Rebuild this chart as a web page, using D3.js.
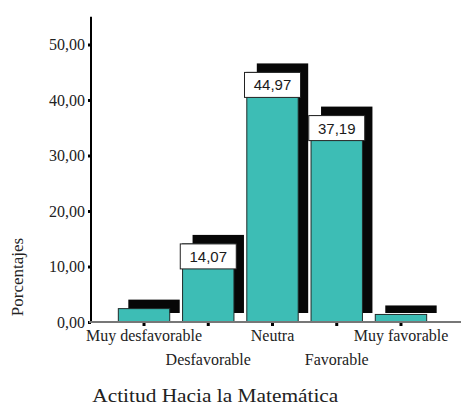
<!DOCTYPE html>
<html>
<head>
<meta charset="utf-8">
<script src="https://cdn.jsdelivr.net/npm/d3@7/dist/d3.min.js"></script>
<style>
  html, body { margin: 0; padding: 0; background: #fff; }
  svg { display: block; }
</style>
</head>
<body>
<svg id="chart" width="461" height="410"></svg>
<script>
// Actitud hacia la matemática: porcentaje por categoría
const categories = ["Muy desfavorable", "Desfavorable", "Neutra", "Favorable", "Muy favorable"];
const percentages = [2.41, 14.07, 44.97, 37.19, 1.36];
const labelledValues = ["", "14,07", "44,97", "37,19", ""];
const yTickValues = [0, 10, 20, 30, 40, 50];

const svg = d3.select("#chart");
const serif = "'Liberation Serif', 'Times New Roman', serif";
const sans = "'Liberation Sans', Arial, sans-serif";

const axisX = 91, baseY = 322;
const y = d3.scaleLinear().domain([0, 55]).range([baseY, 16.75]);
const x = d3.scaleBand().domain(categories).range([111.9, 433.1])
  .paddingInner(0.2).paddingOuter(0.1);

const fmt = v => d3.format(".2f")(v).replace(".", ",");
const shadowDx = 10, shadowDy = -9;

// drop shadows behind each bar
svg.append("g").selectAll("rect").data(categories).join("rect")
  .attr("x", d => x(d) + shadowDx)
  .attr("y", (d, i) => y(percentages[i]) + shadowDy)
  .attr("width", x.bandwidth())
  .attr("height", (d, i) => baseY - y(percentages[i]))
  .attr("fill", "#070707");

// bars
svg.append("g").selectAll("rect").data(categories).join("rect")
  .attr("x", d => x(d))
  .attr("y", (d, i) => y(percentages[i]))
  .attr("width", x.bandwidth())
  .attr("height", (d, i) => baseY - y(percentages[i]))
  .attr("fill", "#3dbdb5")
  .attr("stroke", "#1f2b2a")
  .attr("stroke-width", 1);

// value boxes sitting on the bar tops
const boxW = 56, boxH = 25;
const boxes = svg.append("g").selectAll("g")
  .data(categories.map((c, i) => ({ c, v: percentages[i], t: labelledValues[i] })).filter(d => d.t))
  .join("g")
  .attr("transform", d => `translate(${x(d.c) + x.bandwidth() / 2},${y(d.v)})`);
boxes.append("rect")
  .attr("x", -boxW / 2).attr("y", 0).attr("width", boxW).attr("height", boxH)
  .attr("fill", "#fff").attr("stroke", "#222").attr("stroke-width", 1);
boxes.append("text")
  .attr("x", 0).attr("y", 18)
  .attr("text-anchor", "middle")
  .attr("font-family", sans).attr("font-size", 15)
  .attr("fill", "#1a1a1a")
  .text(d => d.t);

// y axis
const yAxis = svg.append("g").attr("transform", `translate(${axisX},0)`)
  .call(d3.axisLeft(y).tickValues(yTickValues).tickFormat(fmt).tickSize(3).tickPadding(3));
yAxis.select(".domain").attr("stroke", "#000").attr("stroke-width", 2)
  .attr("d", `M0,${y(55)}V${baseY}`);
yAxis.selectAll(".tick line").attr("stroke", "#000").attr("stroke-width", 3);
yAxis.selectAll(".tick text")
  .attr("font-family", serif).attr("font-size", 16).attr("fill", "#222");

// x axis
const xAxis = svg.append("g").attr("transform", `translate(0,${baseY})`)
  .call(d3.axisBottom(x).tickSize(4).tickFormat(""));
xAxis.select(".domain").attr("stroke", "#777").attr("stroke-width", 2)
  .attr("d", `M${axisX - 2},0H461`);
xAxis.selectAll(".tick line").attr("stroke", "#000").attr("stroke-width", 3)
  .attr("y1", 1);

// staggered category labels
svg.append("g").selectAll("text").data(categories).join("text")
  .attr("x", d => x(d) + x.bandwidth() / 2)
  .attr("y", (d, i) => i % 2 === 0 ? 341 : 365)
  .attr("text-anchor", "middle")
  .attr("font-family", serif).attr("font-size", 16).attr("fill", "#222")
  .text(d => d);

// axis titles
svg.append("text")
  .attr("transform", "translate(23,277) rotate(-90)")
  .attr("text-anchor", "middle")
  .attr("font-family", serif).attr("font-size", 17).attr("fill", "#222")
  .text("Porcentajes");

svg.append("text")
  .attr("x", 215.3).attr("y", 402)
  .attr("text-anchor", "middle")
  .attr("font-family", serif).attr("font-size", 19).attr("fill", "#222")
  .attr("textLength", 246).attr("lengthAdjust", "spacingAndGlyphs")
  .text("Actitud Hacia la Matemática");
</script>
</body>
</html>
